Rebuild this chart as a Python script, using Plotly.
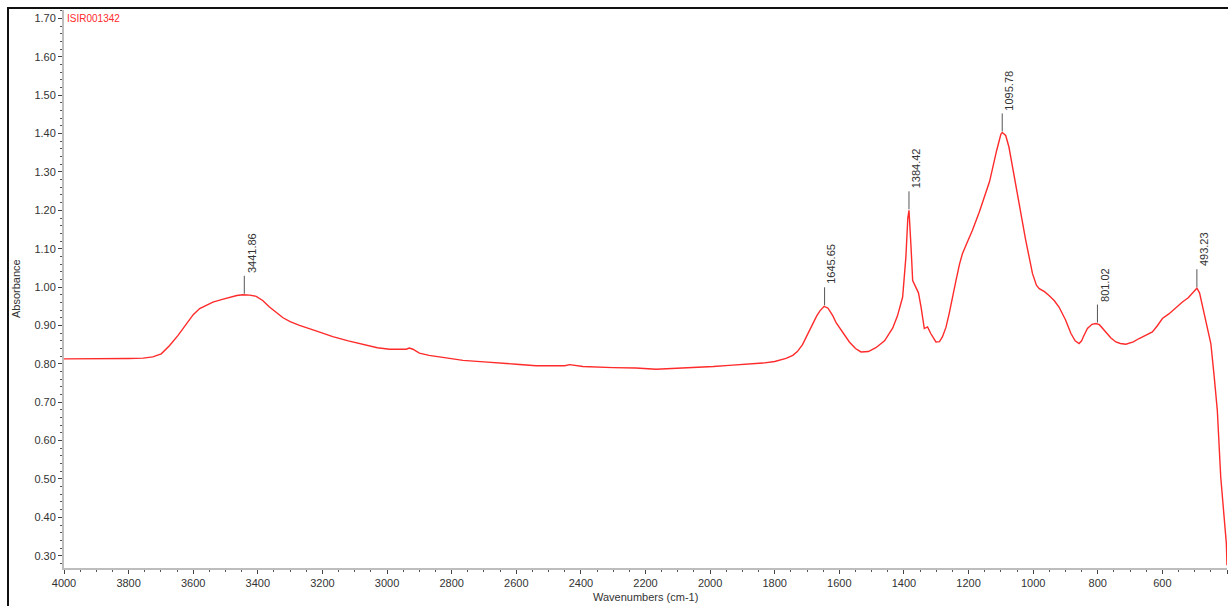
import plotly.graph_objects as go

wavenumbers = [4000, 3900, 3800, 3755, 3725, 3699, 3673, 3647, 3620, 3600, 3580, 3560, 3539, 3510,
               3487, 3465, 3446, 3425, 3405, 3385, 3364, 3343, 3322, 3300, 3271, 3220, 3168, 3120,
               3064, 3030, 2992, 2960, 2941, 2931, 2920, 2900, 2870, 2838, 2800, 2765, 2700, 2662,
               2600, 2539, 2480, 2450, 2435, 2420, 2394, 2301, 2230, 2167, 2100, 2044, 1990, 1941,
               1880, 1837, 1800, 1786, 1765, 1744, 1730, 1714, 1700, 1683, 1670, 1660, 1647, 1635,
               1620, 1610, 1590, 1569, 1550, 1533, 1510, 1487, 1460, 1435, 1420, 1404, 1394, 1388,
               1384.4, 1380, 1378, 1373, 1363, 1355, 1347, 1337, 1327, 1317, 1301, 1290, 1281, 1270,
               1260, 1250, 1239, 1228, 1219, 1205, 1188, 1167, 1150, 1135, 1113, 1100, 1095.8, 1085,
               1075, 1064, 1043, 1023, 1002, 990, 981, 965, 951, 935, 920, 900, 883, 870, 858, 850,
               845, 832, 818, 806, 795, 785, 775, 760, 744, 730, 713, 690, 672, 650, 631, 615, 600,
               580, 560, 538, 520, 505, 497, 493.2, 485, 471, 460, 450, 440, 430, 419.4, 409, 402, 400]
absorbance = [0.813, 0.813, 0.814, 0.815, 0.818, 0.826, 0.848, 0.874, 0.905, 0.928, 0.944, 0.952, 0.961, 0.968,
              0.974, 0.978, 0.980, 0.979, 0.976, 0.965, 0.948, 0.933, 0.920, 0.910, 0.900, 0.886, 0.871, 0.860,
              0.848, 0.842, 0.838, 0.837, 0.838, 0.841, 0.838, 0.828, 0.822, 0.818, 0.814, 0.809, 0.805, 0.802,
              0.799, 0.795, 0.794, 0.795, 0.798, 0.796, 0.793, 0.790, 0.789, 0.786, 0.788, 0.790, 0.793, 0.796,
              0.799, 0.802, 0.806, 0.809, 0.814, 0.822, 0.832, 0.850, 0.873, 0.905, 0.925, 0.938, 0.950, 0.945,
              0.925, 0.907, 0.882, 0.857, 0.840, 0.831, 0.832, 0.842, 0.860, 0.893, 0.925, 0.974, 1.078, 1.18,
              1.20, 1.15, 1.104, 1.017, 1.000, 0.985, 0.948, 0.892, 0.896, 0.879, 0.857, 0.858, 0.870, 0.895,
              0.931, 0.975, 1.017, 1.060, 1.087, 1.115, 1.148, 1.195, 1.235, 1.275, 1.356, 1.398, 1.403, 1.395,
              1.365, 1.313, 1.218, 1.122, 1.035, 1.005, 0.996, 0.988, 0.978, 0.965, 0.948, 0.915, 0.879, 0.860, 0.853, 0.860,
              0.870, 0.892, 0.903, 0.905, 0.902, 0.893, 0.883, 0.868, 0.857, 0.853, 0.851, 0.857, 0.866, 0.875, 0.883, 0.900, 0.918,
              0.930, 0.945, 0.961, 0.972, 0.985, 0.994, 0.997, 0.985, 0.935, 0.895, 0.853, 0.770, 0.679, 0.505, 0.40, 0.332, 0.275]

peak_labels = ["3441.86", "1645.65", "1384.42", "1095.78", "801.02", "493.23"]
peak_x = [3441.86, 1645.65, 1384.42, 1095.78, 801.02, 493.23]
peak_y = [0.980, 0.950, 1.200, 1.403, 0.905, 0.997]

sample_name = "ISIR001342"
x_title = "Wavenumbers (cm-1)"
y_title = "Absorbance"

FONT = "Arial, 'Liberation Sans', sans-serif"
RED = "#ff2a2a"
TXT = "#333333"

W, H = 1228, 606
ML, MR, MT, MB = 64, 1, 10, 38
PW, PH = W - ML - MR, H - MT - MB

fig = go.Figure()
fig.add_trace(go.Scatter(x=wavenumbers, y=absorbance, mode="lines",
                         line=dict(color=RED, width=1.4), showlegend=False, hoverinfo="skip"))

shapes = []
annotations = []
for lab, px_, py_ in zip(peak_labels, peak_x, peak_y):
    shapes.append(dict(type="line", xref="x", yref="y", ysizemode="pixel", yanchor=py_,
                       x0=px_, x1=px_, y0=1, y1=19, line=dict(color="#555555", width=1)))
    annotations.append(dict(x=px_, y=py_, xref="x", yref="y", text=lab, showarrow=False,
                            textangle=-90, xanchor="center", yanchor="bottom",
                            xshift=7, yshift=20, font=dict(family=FONT, size=11, color=TXT)))

annotations.append(dict(x=0, y=1.70, xref="paper", yref="y", text=sample_name, showarrow=False,
                        xanchor="left", yanchor="middle", xshift=1,
                        font=dict(family=FONT, size=10, color=RED)))
annotations.append(dict(x=0.5, y=0, xref="paper", yref="paper", text=x_title, showarrow=False,
                        xanchor="center", yanchor="middle", yshift=-29,
                        font=dict(family=FONT, size=11, color=TXT)))
annotations.append(dict(x=0, y=0.5, xref="paper", yref="paper", text=y_title, showarrow=False,
                        textangle=-90, xanchor="center", yanchor="middle", xshift=-48,
                        font=dict(family=FONT, size=11, color=TXT)))

# outer black frame (left and top edges visible at 8 px from the window edge)
shapes.append(dict(type="rect", xref="paper", yref="paper",
                   x0=(8 - ML) / PW, x1=1 + 20 / PW, y0=-(MB + 20) / PH, y1=1 + (MT - 8) / PH,
                   line=dict(color="#111111", width=2), fillcolor="rgba(0,0,0,0)", layer="below"))

fig.update_layout(
    width=W, height=H,
    margin=dict(l=ML, r=MR, t=MT, b=MB, autoexpand=False),
    paper_bgcolor="white", plot_bgcolor="white",
    font=dict(family=FONT, size=11, color=TXT),
    shapes=shapes, annotations=annotations,
    xaxis=dict(range=[4000, 400], dtick=200, tick0=0, showgrid=False, zeroline=False, automargin=False,
               showline=True, linecolor="#bdbdbd", linewidth=2,
               ticks="outside", ticklen=4, tickcolor="#444444", tickwidth=1,
               minor=dict(dtick=50, ticks="outside", ticklen=2, tickcolor="#555555", showgrid=False),
               tickfont=dict(family=FONT, size=11, color=TXT)),
    yaxis=dict(range=[0.268, 1.722], dtick=0.1, tick0=0, tickformat=".2f", showgrid=False, zeroline=False,
               automargin=False,
               showline=True, linecolor="#bdbdbd", linewidth=2,
               ticks="outside", ticklen=4, tickcolor="#444444", tickwidth=1,
               minor=dict(dtick=0.02, ticks="outside", ticklen=2, tickcolor="#555555", showgrid=False),
               tickfont=dict(family=FONT, size=11, color=TXT)),
)

fig.write_html("out.html", config={"displayModeBar": False},
               post_script="document.body.style.margin='0';document.body.style.overflow='hidden';")
